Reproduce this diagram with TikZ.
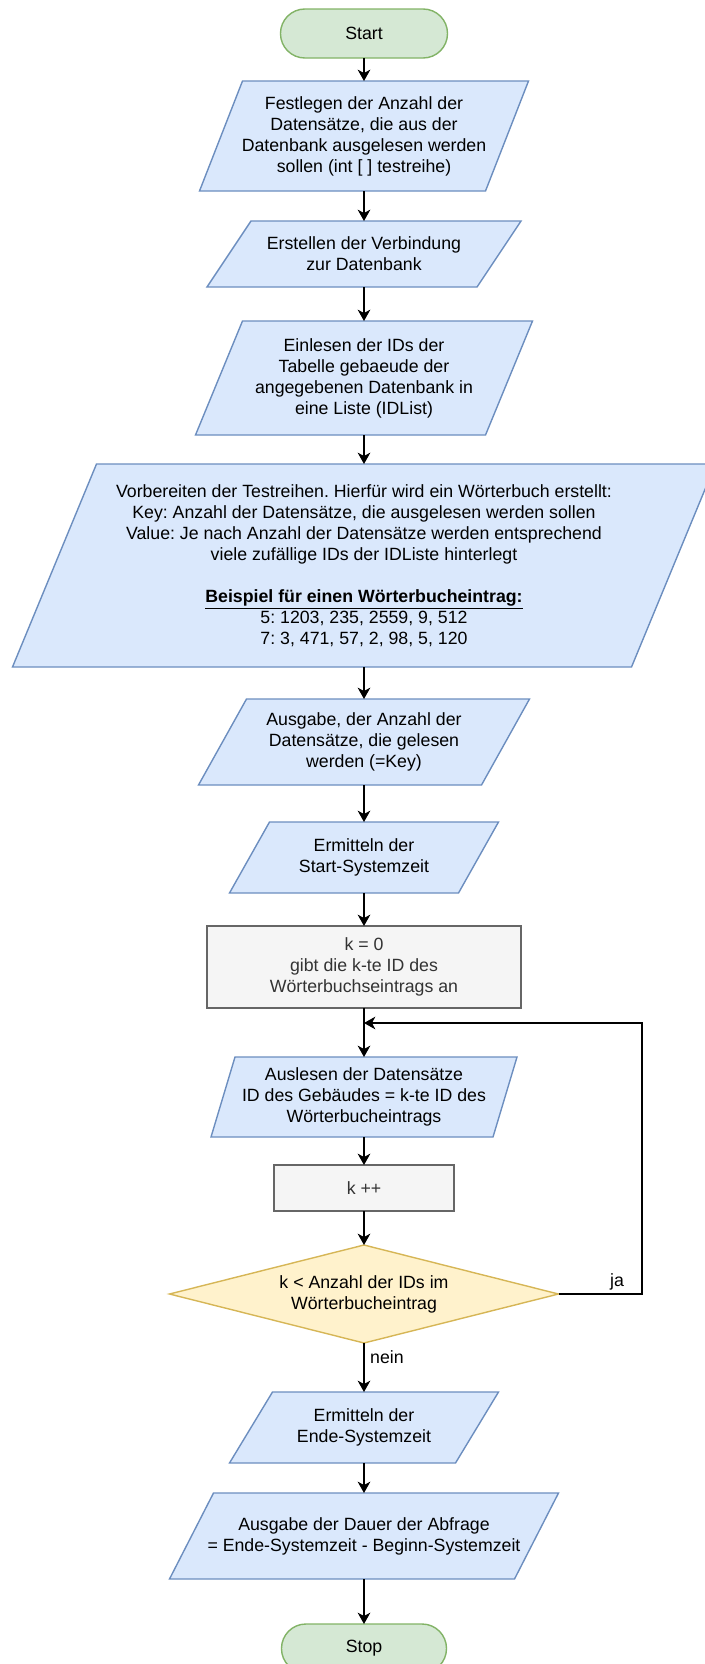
\documentclass[tikz,border=0pt]{standalone}
\usepackage{fontspec}
\setmainfont{Liberation Sans}
\usetikzlibrary{shapes.geometric,arrows.meta,calc,backgrounds}

\definecolor{termFill}{HTML}{D5E8D4}
\definecolor{termDraw}{HTML}{82B366}
\definecolor{ioFill}{HTML}{DAE8FC}
\definecolor{ioDraw}{HTML}{6C8EBF}
\definecolor{procFill}{HTML}{F5F5F5}
\definecolor{procDraw}{HTML}{666666}
\definecolor{procText}{HTML}{333333}
\definecolor{condFill}{HTML}{FFF2CC}
\definecolor{condDraw}{HTML}{D6B656}

\tikzset{every picture/.style={line width=0.75pt}}
\tikzset{
  txt/.style={inner sep=1pt, outer sep=0pt, align=center, font=\fontsize{13.3}{15.75}\selectfont\frenchspacing},
  term/.style={txt, draw=termDraw, fill=termFill, line width=1.05pt, rounded corners=18.3pt},
  io/.style={txt},
  iobox/.style={draw=ioDraw, fill=ioFill, line width=1.05pt},
  proc/.style={txt, draw=procDraw, fill=procFill, text=procText, line width=1.05pt},
  cond/.style={txt, diamond, aspect=4, draw=condDraw, fill=condFill, line width=1.05pt},
  flow/.style={draw=black, line width=1.05pt, -{Stealth[length=8.5pt,width=9.5pt,inset=2.5pt]}},
  lbl/.style={txt, inner sep=0pt}
}

\begin{document}
\begin{tikzpicture}[x=0.75pt,y=0.75pt,yscale=-1,xscale=1]
\useasboundingbox (0,0) rectangle (704,1664);

% Terminal
\node [term, minimum width=125.25pt, minimum height=36.75pt] (start) at (364,33.5) {Start};
% Input / Output
\node [io, minimum width=246.75pt, minimum height=82.5pt] (p1) at (364,136) {Festlegen der Anzahl der\\Datensätze, die aus der\\Datenbank ausgelesen werden\\sollen (int [ ] testreihe)};
\node [io, minimum width=235.5pt, minimum height=49.5pt] (p2) at (364,254) {Erstellen der Verbindung\\zur Datenbank};
\node [io, minimum width=252.75pt, minimum height=85.5pt] (p3) at (364,378) {Einlesen der IDs der\\Tabelle gebaeude der\\angegebenen Datenbank in\\eine Liste (IDList)};
\node [io, minimum width=527.25pt, minimum height=152.25pt] (p4) at (364,565.5) {Vorbereiten der Testreihen. Hierfür wird ein Wörterbuch erstellt:\\Key: Anzahl der Datensätze, die ausgelesen werden sollen\\Value: Je nach Anzahl der Datensätze werden entsprechend\\viele zufällige IDs der IDListe hinterlegt\\[15.75pt]\underline{\textbf{Beispiel für einen Wörterbucheintrag:}}\\5: 1203, 235, 2559, 9, 512\\7: 3, 471, 57, 2, 98, 5, 120};
\node [io, minimum width=248.25pt, minimum height=64.5pt] (p5) at (364,742) {Ausgabe, der Anzahl der\\Datensätze, die gelesen\\werden (=Key)};
\node [io, minimum width=201.75pt, minimum height=53.25pt] (p6) at (364,857.5) {Ermitteln der\\Start-Systemzeit};
% Process
\node [proc, minimum width=235.5pt, minimum height=61.5pt] (r1) at (364,967) {k = 0\\gibt die k-te ID des\\Wörterbuchseintrags an};
\node [io, minimum width=229.5pt, minimum height=60pt] (p7) at (364,1097) {Auslesen der Datensätze\\ID des Gebäudes = k-te ID des\\Wörterbucheintrags};
\node [proc, minimum width=135pt, minimum height=34.5pt] (r2) at (364,1188) {k ++};
% Decision
\node [cond, minimum width=291.75pt, minimum height=73.5pt] (dec) at (364,1294) {k < Anzahl der IDs im\\Wörterbucheintrag};
\node [io, minimum width=201.75pt, minimum height=53.25pt] (p8) at (364,1427.5) {Ermitteln der\\Ende-Systemzeit};
\node [io, minimum width=291.75pt, minimum height=64.5pt] (p9) at (364,1536) {Ausgabe der Dauer der Abfrage\\= Ende-Systemzeit - Beginn-Systemzeit};
\node [term, minimum width=123.75pt, minimum height=36.75pt] (stop) at (364,1648.5) {Stop};

%Shape: Parallelogram
\begin{pgfonlayer}{background}
\foreach \n/\o in {p1/43,p2/44,p3/47,p4/84,p5/48,p6/40,p7/24,p8/43,p9/44}
  \draw [iobox] ($(\n.north west)+(\o,0)$) -- (\n.north east) -- ($(\n.south east)-(\o,0)$) -- (\n.south west) -- cycle;
\end{pgfonlayer}

% Connectors
\foreach \a/\b in {start/p1,p1/p2,p2/p3,p3/p4,p4/p5,p5/p6,p6/r1,r1/p7,p7/r2,r2/dec,dec/p8,p8/p9,p9/stop}
  \draw [flow] (\a) -- (\b);
\coordinate (back) at (642,1023);
\coordinate (merge) at (364,1023);
\draw [flow] (dec.east) -| (back) -- (merge);

% Text Node
\node [lbl] (ja) at (617,1282) {ja};
% Text Node
\node [lbl] (nein) at (387,1357) {nein};

\end{tikzpicture}
\end{document}
